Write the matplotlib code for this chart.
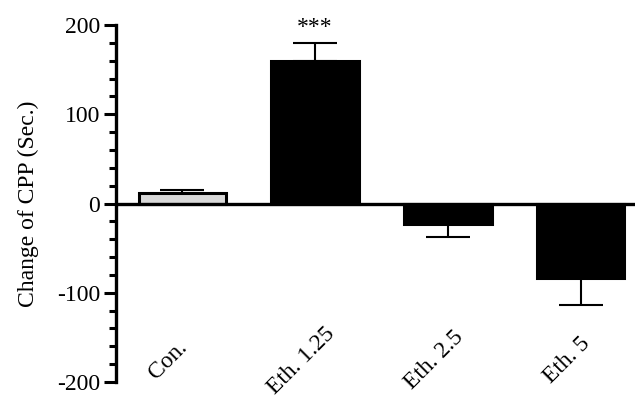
import matplotlib.pyplot as plt
from matplotlib.ticker import MultipleLocator
import matplotlib.transforms as mtransforms

groups = ["Con.", "Eth. 1.25", "Eth. 2.5", "Eth. 5"]
means = [12, 160, -23, -83]
errors = [3, 20, 14, 31]
fills = ["#d9d9d9", "black", "black", "black"]

plt.rcParams["font.family"] = "serif"
plt.rcParams["font.serif"] = ["Liberation Serif", "DejaVu Serif"]

fig = plt.figure(figsize=(6.35, 3.97), dpi=100)
ax = fig.add_axes([116 / 635, 15 / 397, 1 - 116 / 635, 357 / 397])

x = list(range(len(groups)))
ax.bar(x, means, width=0.66, color=fills, edgecolor="black", linewidth=2.2, zorder=2)

# one-sided error bars, pointing away from zero
for xi, m, e in zip(x, means, errors):
    lower = [e] if m < 0 else [0]
    upper = [e] if m >= 0 else [0]
    ax.errorbar(xi, m, yerr=[lower, upper], fmt="none", ecolor="black",
                elinewidth=1.5, capsize=16, capthick=1.5, zorder=1)

ax.axhline(0, color="black", linewidth=2.4, zorder=3)
ax.text(1, means[1] + errors[1] + 5, "***", ha="center", va="bottom", fontsize=17)

ax.set_xlim(-0.5, 3.41)
ax.set_ylim(-200, 200)
ax.yaxis.set_minor_locator(MultipleLocator(20))
ax.set_yticks([-200, -100, 0, 100, 200])
ax.set_yticklabels(["-200", "-100", "0", "100", "200"])
ax.tick_params(axis="y", which="major", length=8.6, width=2.2, labelsize=17, pad=3)
ax.tick_params(axis="y", which="minor", length=5, width=2.2)
ax.set_ylabel("Change of CPP (Sec.)", fontsize=17, labelpad=13)

for side in ["top", "right", "bottom"]:
    ax.spines[side].set_visible(False)
ax.spines["left"].set_linewidth(2.4)

ax.set_xticks([])
offset = mtransforms.ScaledTranslation(-14 / 100, 0, fig.dpi_scale_trans)
for xi, name in zip(x, groups):
    ax.text(xi, -176, name, rotation=45, ha="center", va="center",
            fontsize=17, transform=ax.transData + offset)

fig.savefig("out.png", dpi=100)
plt.close(fig)
